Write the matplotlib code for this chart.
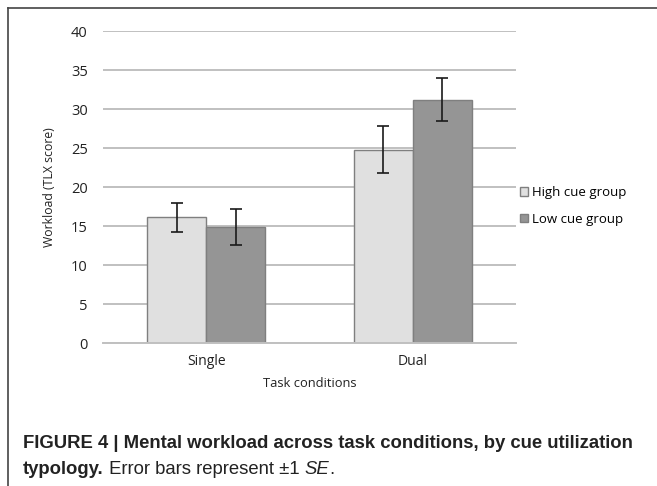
import matplotlib.pyplot as plt
import numpy as np
from matplotlib.lines import Line2D

# ── DATA ────────────────────────────────────────────────────
conditions = ["Single", "Dual"]
groups = ["High cue group", "Low cue group"]
high_cue = [16.1, 24.8]
low_cue = [14.9, 31.2]
high_se = [1.9, 3.0]
low_se = [2.3, 2.8]

colors = ["#e0e0e0", "#959595"]
edge = "#7f7f7f"

fig = plt.figure(figsize=(6.57, 4.86), dpi=100)
ax = fig.add_axes([0.1568, 0.2942, 0.6282, 0.642])

x = np.arange(len(conditions))
w = 0.286
ax.bar(x - w / 2, high_cue, w, color=colors[0], edgecolor=edge, linewidth=1.0,
       label=groups[0], zorder=2)
ax.bar(x + w / 2, low_cue, w, color=colors[1], edgecolor=edge, linewidth=1.0,
       label=groups[1], zorder=2)
ax.errorbar(x - w / 2, high_cue, yerr=high_se, fmt="none", ecolor="#1a1a1a",
            elinewidth=1.2, capsize=4, capthick=1.2, zorder=3)
ax.errorbar(x + w / 2, low_cue, yerr=low_se, fmt="none", ecolor="#1a1a1a",
            elinewidth=1.2, capsize=4, capthick=1.2, zorder=3)

font = "Open Sans"
ax.set_xlim(-0.5, 1.5)
ax.set_ylim(0, 40)
ax.set_yticks(range(0, 41, 5))
ax.set_xticks(x)
ax.set_xticklabels(conditions, fontsize=10, family=font, color="#222222")
for t in ax.get_yticklabels():
    t.set_fontsize(10.5)
    t.set_family(font)
    t.set_color("#222222")
ax.tick_params(length=0, pad=11, axis="y")
ax.tick_params(length=0, pad=8, axis="x")
ax.yaxis.grid(True, color="#c0c0c0", linewidth=1.4, zorder=0)
ax.set_axisbelow(True)
for s in ["top", "right", "left"]:
    ax.spines[s].set_visible(False)
ax.spines["bottom"].set_color("#c0c0c0")
ax.spines["bottom"].set_linewidth(1.4)

ax.set_ylabel("Workload (TLX score)", fontsize=8.8, family=font, labelpad=11,
              color="#222222")
ax.set_xlabel("Task conditions", fontsize=9.3, family=font, labelpad=6,
              color="#222222")

leg = ax.legend(loc="center left", bbox_to_anchor=(1.0, 0.44), frameon=False,
                borderaxespad=0.1, borderpad=0.2,
                prop={"family": font, "size": 9.5}, handlelength=0.65,
                handleheight=0.65, handletextpad=0.25, labelspacing=1.05)

# figure frame (top and left rules)
fig.add_artist(Line2D([0.012, 1.0], [0.984, 0.984], color="#444444", linewidth=1.2))
fig.add_artist(Line2D([0.012, 0.012], [0.0, 0.984], color="#444444", linewidth=1.2))

# caption
cap_font = "Liberation Sans"
cap_kw = dict(fontsize=13.3, family=cap_font, color="#222222", va="baseline")
fig.text(0.035, 0.078,
         "FIGURE 4 | Mental workload across task conditions, by cue utilization",
         fontweight="bold", **cap_kw)
t1 = fig.text(0.035, 0.025, "typology.", fontweight="bold", **cap_kw)
t2 = fig.text(0, 0, " Error bars represent \u00b11 ", **cap_kw)
t3 = fig.text(0, 0, "SE", style="italic", **cap_kw)
t4 = fig.text(0, 0, ".", **cap_kw)

# chain the caption pieces one after another
fig.canvas.draw()
r = fig.canvas.get_renderer()
inv = fig.transFigure.inverted()
prev = t1
for t in [t2, t3, t4]:
    bb = prev.get_window_extent(renderer=r)
    x_end = inv.transform((bb.x1, bb.y0))[0]
    t.set_position((x_end, 0.025))
    prev = t

fig.savefig("out.png", dpi=100)
